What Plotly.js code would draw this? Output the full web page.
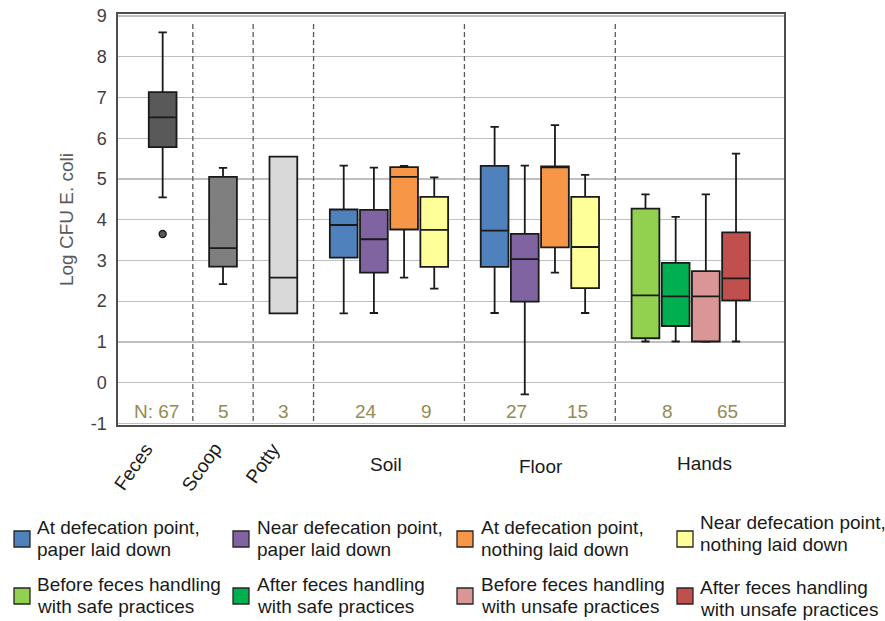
<!DOCTYPE html>
<html>
<head>
<meta charset="utf-8">
<script src="https://cdn.plot.ly/plotly-3.0.1.min.js"></script>
<style>html,body{margin:0;padding:0;background:#fff;}#chart{width:885px;height:621px;}</style>
</head>
<body>
<div id="chart"></div>
<script>
// ---------- DATA ----------
const groups = ['Feces', 'Scoop', 'Potty', 'Soil', 'Floor', 'Hands'];
const subgroupLines = [
  ['At defecation point,', 'paper laid down'],
  ['Near defecation point,', 'paper laid down'],
  ['At defecation point,', 'nothing laid down'],
  ['Near defecation point,', 'nothing laid down'],
  ['Before feces handling', 'with safe practices'],
  ['After feces handling', 'with safe practices'],
  ['Before feces handling', 'with unsafe practices'],
  ['After feces handling', 'with unsafe practices']
];
// one entry per box
const boxGroup    = ['Feces','Scoop','Potty','Soil','Soil','Soil','Soil','Floor','Floor','Floor','Floor','Hands','Hands','Hands','Hands'];
const boxSubgroup = [-1, -1, -1, 0, 1, 2, 3, 0, 1, 2, 3, 4, 5, 6, 7];
const lowerWhisker = [4.55, 2.42, 1.70, 1.70, 1.71, 2.58, 2.31, 1.71, -0.29, 2.70, 1.71, 1.01, 1.01, 1.00, 1.01];
const q1Values     = [5.78, 2.85, 1.70, 3.07, 2.70, 3.76, 2.84, 2.84, 1.99, 3.32, 2.32, 1.09, 1.39, 1.01, 2.02];
const medianValues = [6.51, 3.30, 2.58, 3.87, 3.52, 5.05, 3.75, 3.73, 3.03, 5.29, 3.33, 2.14, 2.12, 2.12, 2.56];
const q3Values     = [7.13, 5.05, 5.55, 4.25, 4.24, 5.29, 4.56, 5.32, 3.65, 5.31, 4.56, 4.27, 2.94, 2.74, 3.69];
const upperWhisker = [8.60, 5.27, 5.55, 5.33, 5.28, 5.32, 5.04, 6.28, 5.33, 6.32, 5.10, 4.62, 4.07, 4.62, 5.62];
const outlierGroup  = ['Feces'];
const outlierValues = [3.65];
// sample sizes: label text and the boxes each one covers
const nLabels = ['N: 67', '5', '3', '24', '9', '27', '15', '8', '65'];
const nBoxes  = [[0], [1], [2], [3, 4], [5, 6], [7, 8], [9, 10], [11, 12], [13, 14]];
const yTickValues = [-1, 0, 1, 2, 3, 4, 5, 6, 7, 8, 9];

// ---------- STYLE ----------
const FONT = 'Arial, "Liberation Sans", Helvetica, sans-serif';
const groupColors = {Feces: '#595959', Scoop: '#7f7f7f', Potty: '#d9d9d9'};
const subgroupColors = ['#4f81bd', '#8064a2', '#f79646', '#ffff99', '#92d050', '#00b050', '#d99694', '#c0504d'];
const edge = '#1a1a1a';
const boxWidth = 0.92;
const M = {l: 118, r: 101, t: 14, b: 196};
const W = 885, H = 621;
const PW = W - M.l - M.r, PH = H - M.t - M.b;
const px2paperX = p => (p - M.l) / PW;
const px2paperY = p => (H - M.b - p) / PH;

// slot positions along x: single boxes take 2 slots, multi-box groups n+1
const groupPos = {};
let cursor = 0;
groups.forEach(g => {
  const idx = boxGroup.map((bg, i) => bg === g ? i : -1).filter(i => i >= 0);
  groupPos[g] = idx.map((_, k) => cursor + k);
  cursor += idx.length === 1 ? 2 : idx.length + 1;
});
const boxPos = boxGroup.map((g, i) => {
  const members = boxGroup.map((bg, j) => bg === g ? j : -1).filter(j => j >= 0);
  return groupPos[g][members.indexOf(i)];
});

// ---------- TRACES ----------
const traces = boxGroup.map((g, i) => ({
  type: 'box',
  x: [boxPos[i]],
  q1: [q1Values[i]], median: [medianValues[i]], q3: [q3Values[i]],
  lowerfence: [lowerWhisker[i]], upperfence: [upperWhisker[i]],
  name: boxSubgroup[i] >= 0 ? g + ': ' + subgroupLines[boxSubgroup[i]].join(' ') : g,
  width: boxWidth,
  whiskerwidth: 0.3,
  boxpoints: false,
  fillcolor: boxSubgroup[i] >= 0 ? subgroupColors[boxSubgroup[i]] : groupColors[g],
  line: {color: edge, width: 1.8},
  showlegend: false,
  hoverinfo: 'skip'
}));
traces.push({
  type: 'scatter', mode: 'markers',
  x: outlierGroup.map(g => groupPos[g][0]), y: outlierValues,
  marker: {size: 7, color: '#595959', line: {color: edge, width: 1.4}},
  showlegend: false, hoverinfo: 'skip'
});

// ---------- SHAPES & ANNOTATIONS ----------
const shapes = [];
const annotations = [];
// dashed group separators
for (let k = 1; k < groups.length; k++) {
  const prevEnd = Math.max(...groupPos[groups[k - 1]]);
  const nextStart = Math.min(...groupPos[groups[k]]);
  const xs = (prevEnd + nextStart) / 2;
  shapes.push({type: 'line', xref: 'x', yref: 'paper', x0: xs, x1: xs, y0: px2paperY(421), y1: px2paperY(22),
    line: {color: '#595959', width: 1.3, dash: '5px,3px'}});
}
// N labels
nLabels.forEach((t, k) => {
  const xs = nBoxes[k].map(i => boxPos[i]);
  const xc = xs.reduce((a, b) => a + b, 0) / xs.length;
  annotations.push({text: t, x: xc, y: -0.72, xref: 'x', yref: 'y', showarrow: false,
    xanchor: 'center', yanchor: 'middle', xshift: xs.length > 1 ? 7 : (k === 0 ? -6 : 0),
    font: {family: FONT, size: 19, color: '#948a54'}});
});
// group labels
const rotatedShift = {Feces: -3, Scoop: 6, Potty: 4};
const flatY = {Soil: 464, Floor: 466, Hands: 463};
const flatShift = {Soil: -3, Floor: 1, Hands: 14};
groups.forEach(g => {
  const ps = groupPos[g];
  const xc = ps.reduce((a, b) => a + b, 0) / ps.length;
  if (ps.length === 1) {
    annotations.push({text: g, x: xc, y: px2paperY(436), xref: 'x', yref: 'paper', showarrow: false,
      textangle: -55, xanchor: 'right', yanchor: 'top', xshift: rotatedShift[g],
      font: {family: FONT, size: 19, color: '#1a1a1a'}});
  } else {
    annotations.push({text: g, x: xc, y: px2paperY(flatY[g]), xref: 'x', yref: 'paper', showarrow: false,
      xanchor: 'center', yanchor: 'middle', xshift: flatShift[g],
      font: {family: FONT, size: 19, color: '#1a1a1a'}});
  }
});
// custom legend (4 columns x 2 rows)
const colLeft = [14, 233, 457, 677];
const colText = [35, 255, 479, 698];
const rowTop = [531, 588];
const rowBase = [[534, 555.5], [591, 612.5]];
const colRowAdj = [[0, 0], [0, 0], [0, 0], [-5, 3]];
subgroupLines.forEach((lines, s) => {
  const c = s % 4, r = Math.floor(s / 4);
  shapes.push({type: 'rect', xref: 'paper', yref: 'paper',
    x0: px2paperX(colLeft[c]), x1: px2paperX(colLeft[c] + 16),
    y0: px2paperY(rowTop[r] + 16), y1: px2paperY(rowTop[r]),
    fillcolor: subgroupColors[s], line: {color: '#262626', width: 1.3}});
  lines.forEach((ln, li) => {
    const base = rowBase[r][li] + colRowAdj[c][r];
    annotations.push({text: ln, xref: 'paper', yref: 'paper', x: px2paperX(colText[c]), y: px2paperY(base - 6.5),
      xanchor: 'left', yanchor: 'middle', showarrow: false,
      font: {family: FONT, size: 19, color: '#1a1a1a'}});
  });
});

const layout = {
  width: W, height: H,
  margin: M,
  paper_bgcolor: '#ffffff', plot_bgcolor: '#ffffff',
  font: {family: FONT},
  showlegend: false,
  boxmode: 'overlay',
  xaxis: {range: [-1.48, 20.59], showgrid: false, zeroline: false, showticklabels: false, ticks: '',
    showline: true, mirror: true, linecolor: '#4d4d4d', linewidth: 1.6, fixedrange: true},
  yaxis: {range: [-1.04, 9.05], tickmode: 'array', tickvals: yTickValues, ticktext: yTickValues.map(v => String(v)),
    showgrid: true, gridcolor: '#bfbfbf', gridwidth: 1.3,
    zeroline: false, showline: true, mirror: true, linecolor: '#4d4d4d', linewidth: 1.6, ticks: '',
    ticklabelstandoff: 6,
    tickfont: {family: FONT, size: 18, color: '#404040'},
    title: {text: 'Log CFU E. coli', standoff: 12, font: {family: FONT, size: 19, color: '#595959'}},
    fixedrange: true},
  shapes: shapes,
  annotations: annotations
};

Plotly.newPlot('chart', traces, layout, {displayModeBar: false, staticPlot: true});
</script>
</body>
</html>
